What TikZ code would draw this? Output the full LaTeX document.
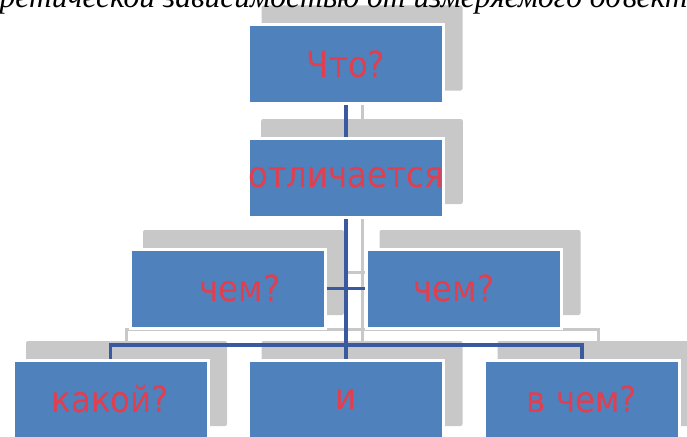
\documentclass[tikz,border=0pt]{standalone}
\usepackage{fontspec}
\setmainfont{Liberation Serif}
\newfontfamily\boxfont[FakeStretch=0.9]{DejaVu Sans}
\usetikzlibrary{backgrounds}
\definecolor{boxblue}{RGB}{79,129,189}
\definecolor{wireblue}{RGB}{58,90,160}
\definecolor{shadowgray}{RGB}{200,200,200}
\definecolor{qred}{RGB}{226,62,78}
\tikzstyle{every box} = []
\tikzstyle{qbox} = [rectangle, fill=boxblue, draw=white, line width=3pt, minimum width=195pt, minimum height=79pt, inner sep=0pt, text=qred, font=\boxfont\fontsize{36}{36}\selectfont, every box]
\tikzstyle{wire} = [line width=3.5pt, draw=wireblue]
\tikzstyle{wireshadow} = [line width=3pt, draw=shadowgray]

\begin{document}
\begin{tikzpicture}[x=1pt, y=-1pt]
        \useasboundingbox (0,0) rectangle (687,436);

        \node[anchor=base east, inner sep=0pt, font=\itshape\fontsize{31.5}{31.5}\selectfont] (title) at (704,8) {теоретической зависимостью от измеряемого объекта};

        \node[qbox] (chto) at (346,64) {Что?};
        \node[qbox] (otl) at (346,177.5) {отличается};
        \node[qbox] (chemL) at (227.5,288.5) {\hspace*{25pt}чем?};
        \node[qbox] (chemR) at (464,288.5) {чем?\hspace*{20pt}};
        \node[qbox] (kakoy) at (110.5,399.5) {какой?};
        \node[qbox] (i) at (346,399.5) {и};
        \node[qbox] (vchem) at (582,399.5) {в чем?};
        \coordinate (bus) at (346,345);

        \begin{scope}[on background layer]
            \foreach \n in {chto,otl,chemL,chemR,kakoy,i,vchem}
                \fill[shadowgray, rounded corners=2pt] ([shift={(14.5,-14.5)}]\n.south west) rectangle ([shift={(17.5,-17.5)}]\n.north east);
            \foreach \d/\s in {16/wireshadow, 0/wire} {
                \draw[\s] ([shift={(\d,-\d)}]chto.south) -- ([shift={(\d,-\d)}]i.north);
                \draw[\s] ([shift={(\d,-\d)}]chemL.east) -- ([shift={(\d,-\d)}]chemR.west);
                \draw[\s] ([shift={(\d,-\d)}]kakoy.north) |- ([shift={(\d,-\d)}]bus) -| ([shift={(\d,-\d)}]vchem.north);
            }
        \end{scope}
    \end{tikzpicture}
\end{document}
